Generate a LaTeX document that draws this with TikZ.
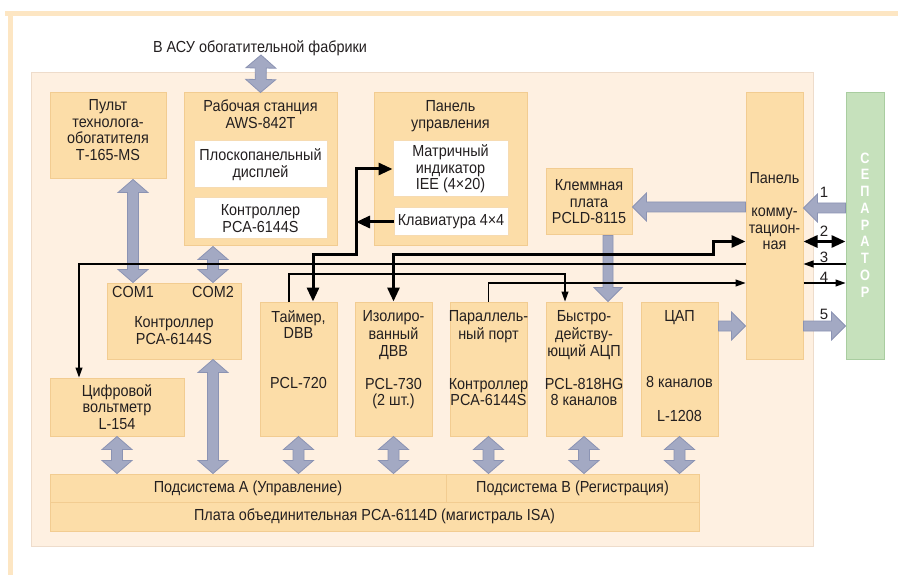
\documentclass[tikz,border=0pt]{standalone}
\usepackage{fontspec}
\setmainfont{Liberation Sans}
\newfontfamily\cond[FakeStretch=0.9]{Liberation Sans}
\newfontfamily\condsep[FakeStretch=0.85]{Liberation Sans}
\usetikzlibrary{calc,fit,arrows.meta}
\definecolor{obox}{HTML}{FCDDA8}
\definecolor{oborder}{HTML}{F2CC91}
\definecolor{bgin}{HTML}{FEF0E1}
\definecolor{bginb}{HTML}{EEDCCB}
\definecolor{framec}{HTML}{FDE6C3}
\definecolor{gfill}{HTML}{A3A9C3}
\definecolor{gdraw}{HTML}{8B93B3}
\definecolor{sepg}{HTML}{C6E1BC}
\definecolor{sepd}{HTML}{A9CDA0}
\definecolor{tx}{HTML}{231F20}
\tikzset{
  txt/.style={font=\cond\fontsize{16}{16.5}\selectfont, align=center, inner sep=0pt, text=tx},
  box/.style={draw=oborder, fill=obox, line width=1pt, inner sep=0pt},
  wbox/.style={draw=oborder!70, fill=white, line width=1pt, inner sep=0pt},
  garr/.style={fill=gfill, draw=gdraw, line width=0.8pt, line join=miter},
  thk/.style={line width=3pt, draw=black},
  thn/.style={line width=1.1pt, draw=black},
  tkT/.tip={Triangle[length=14pt,width=12pt]},
  tnT/.tip={Triangle[length=10pt,width=7pt]},
  num/.style={font=\fontsize{15}{15}\selectfont, inner sep=0pt, text=tx},
}
% empty box from (x1,y1) to (x2,y2)
\newcommand\bx[6][box]{\node[#1, fit={(#3,#4) (#5,#6)}] (#2) {};}
% box with centered text (text node named #2t)
\newcommand\bxt[7][box]{\node[#1, fit={(#3,#4) (#5,#6)}] (#2) {};
  \node[txt] (#2t) at (#2.center) {#7};}
% single gray arrow: tail #1, tip #2
\newcommand\gone[2]{%
  \coordinate (gP) at (#1); \coordinate (gQ) at (#2);
  \coordinate (gC) at ($(gQ)!14pt!(gP)$);
  \draw[garr] ($(gP)!5pt!90:(gQ)$) -- ($(gC)!5pt!90:(gQ)$) -- ($(gC)!14pt!90:(gQ)$) -- (gQ)
    -- ($(gC)!14pt!-90:(gQ)$) -- ($(gC)!5pt!-90:(gQ)$) -- ($(gP)!5pt!-90:(gQ)$) -- cycle;}
% double gray arrow between #1 and #2
\newcommand\gtwo[2]{%
  \coordinate (gP) at (#1); \coordinate (gQ) at (#2);
  \coordinate (gA) at ($(gP)!13pt!(gQ)$); \coordinate (gB) at ($(gQ)!13pt!(gP)$);
  \draw[garr] (gP) -- ($(gA)!15pt!90:(gQ)$) -- ($(gA)!5.5pt!90:(gQ)$) -- ($(gB)!5.5pt!90:(gQ)$)
    -- ($(gB)!15pt!90:(gQ)$) -- (gQ) -- ($(gB)!15pt!-90:(gQ)$) -- ($(gB)!5.5pt!-90:(gQ)$)
    -- ($(gA)!5.5pt!-90:(gQ)$) -- ($(gA)!15pt!-90:(gQ)$) -- cycle;}
\begin{document}
\begin{tikzpicture}[x=1pt,y=-1pt]
\useasboundingbox (0,0) rectangle (898,575);
\fill[white] (0,0) rectangle (898,575);
% page frame
\fill[framec] (5,11) rectangle (898,16);
\fill[framec] (8,11) rectangle (13,575);
% inner background
\node[draw=bginb, fill=bgin, line width=1pt, inner sep=0pt, fit={(31,73) (813,546)}] (bg) {};
% title
\node[txt] (title) at (260,48) {В АСУ обогатительной фабрики};
\coordinate (tA) at (261,55);
% boxes
\bx{pult}{50}{93}{166}{179}
\bx{ws}{184}{93}{337}{246}
\bxt[wbox]{fpd}{194}{141}{327}{188}{Плоскопанельный\\дисплей}
\bxt[wbox]{wsc}{194}{198}{327}{239}{Контроллер\\PCA-6144S}
\bx{pu}{374}{93}{527}{246}
\bxt[wbox]{mi}{393}{141}{508}{197}{Матричный\\индикатор\\IEE (4×20)}
\bxt[wbox]{kb}{394}{208}{508}{236}{Клавиатура 4×4}
\bxt{klem}{546}{169}{632}{235}{Клеммная\\плата\\PCLD-8115}
\bx{pk}{746}{93}{803}{359}
\bx[draw=sepd, fill=sepg, line width=1pt, inner sep=0pt]{sep}{846}{93}{884}{359}
\bx{com}{107}{283}{241}{359}
\bxt{dv}{50}{378}{184}{436}{Цифровой\\вольтметр\\L-154}
\bx{tm}{260}{302}{337}{436}
\bx{iso}{355}{302}{432}{436}
\bx{pp}{450}{302}{527}{436}
\bx{adc}{546}{302}{622}{436}
\bx{dac}{641}{302}{718}{436}
\bxt{busA}{50}{474}{446}{502}{Подсистема А (Управление)}
\bxt{busB}{446}{474}{699}{502}{Подсистема В (Регистрация)}
\bxt{bp}{50}{502}{699}{531}{Плата объединительная PCA-6114D (магистраль ISA)}
% top-aligned texts
\node[txt, anchor=north] (tpult) at (108,99) {\strut Пульт\\технолога-\\обогатителя\\Т-165-MS};
\node[txt, anchor=north] (tws) at (260.5,100) {\strut Рабочая станция\\AWS-842T};
\node[txt, anchor=north] (tpu) at (450.5,100) {\strut Панель\\управления};
\node[txt, anchor=north] (tpk) at (774.5,172) {\strut Панель\\[16.5pt]комму-\\тацион-\\ная};
\node[txt] (c1) at (133,292) {COM1};
\node[txt] (c2) at (213,292) {COM2};
\node[txt, anchor=north] (tcom) at (174,316) {\strut Контроллер\\PCA-6144S};
\node[txt, anchor=north] (ttm) at (298.5,310) {\strut Таймер,\\DBB\\[33pt]PCL-720};
\node[txt, anchor=north] (tiso) at (393.5,310) {\strut Изолиро-\\ванный\\ДВВ\\[16.5pt]PCL-730\\(2 шт.)};
\node[txt, anchor=north] (tpp) at (488.5,310) {\strut Параллель-\\ный порт\\[33pt]Контроллер\\PCA-6144S};
\node[txt, anchor=north] (tadc) at (584,310) {\strut Быстро-\\действу-\\ющий АЦП\\[16.5pt]PCL-818HG\\8 каналов};
\node[txt, anchor=north] (tdac) at (679.5,310) {\strut ЦАП\\[49.5pt]8 каналов\\[17pt]L-1208};
% separator letters
\node[font=\condsep\bfseries\fontsize{15}{16.75}\selectfont, text=white, align=center, inner sep=0pt] (tsep) at (865,225) {С\\Е\\П\\А\\Р\\А\\Т\\О\\Р};
% gray double arrows
\gtwo{tA}{ws.north}
\gtwo{c1 |- pult.south}{c1 |- com.north}
\gtwo{c2 |- ws.south}{c2 |- com.north}
\gtwo{c2 |- com.south}{c2 |- busA.north}
\gtwo{dv.south}{dv.south |- busA.north}
\gtwo{tm.south}{tm.south |- busA.north}
\gtwo{iso.south}{iso.south |- busA.north}
\gtwo{pp.south}{pp.south |- busB.north}
\gtwo{adc.south}{adc.south |- busB.north}
\gtwo{dac.south}{dac.south |- busB.north}
% gray single arrows
\coordinate (kd) at ($(klem.south)+(19,0)$);
\gone{kd}{kd |- adc.north}
\coordinate (ry) at (0,207);
\gone{pk.west |- ry}{klem.east |- ry}
\coordinate (r1) at (0,208);
\gone{sep.west |- r1}{pk.east |- r1}
\coordinate (r5) at (0,326);
\gone{dac.east |- r5}{pk.west |- r5}
\gone{pk.east |- r5}{sep.west |- r5}
% thick black lines
\coordinate (jA) at (356,255);
\coordinate (tA2) at ($(tm.north)+(14.5,0)$);
\draw[thk, tkT-tkT] (tA2) |- (jA) |- (mi.west);
\draw[thk, -tkT] (kb.west) -- (kb.west -| jA);
\coordinate (jB) at (713,255);
\coordinate (r2) at (0,241.5);
\draw[thk, tkT-tkT] (iso.north) |- (jB) |- (pk.west |- r2);
\draw[thk, tkT-tkT] (pk.east |- r2) -- (sep.west |- r2);
% thin black lines
\coordinate (r3) at (0,264);
\coordinate (xv) at (79,0);
\draw[thn, tnT-] (xv |- dv.north) |- (pk.west |- r3);
\draw[thn, -tnT] (sep.west |- r3) -- (pk.east |- r3);
\coordinate (jD1) at ($(tm.north)+(-9.5,0)$);
\coordinate (jD2) at ($(adc.north)+(-19,0)$);
\coordinate (r4a) at (0,274);
\draw[thn, -tnT] (jD1) |- (jD2 |- r4a) -- (jD2);
\coordinate (r4) at (0,283);
\draw[thn, -tnT] (pp.north) |- (pk.west |- r4);
\draw[thn, -tnT] (pk.east |- r4) -- (sep.west |- r4);
% signal numbers
\node[num] (n1) at (824,192) {1};
\node[num] (n2) at (824,231) {2};
\node[num] (n3) at (824,257) {3};
\node[num] (n4) at (824,277) {4};
\node[num] (n5) at (824,314) {5};
\end{tikzpicture}
\end{document}
